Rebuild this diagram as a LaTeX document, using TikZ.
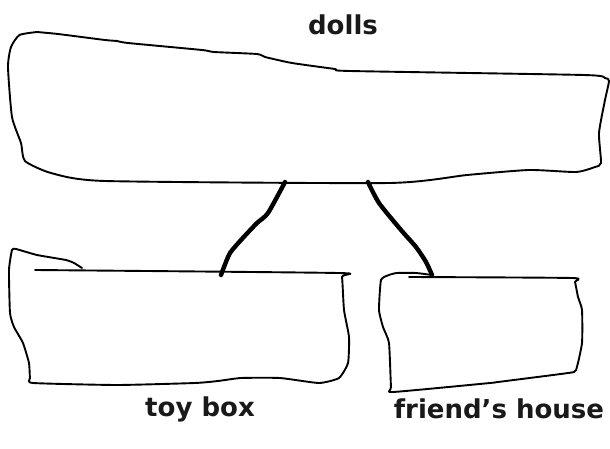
\documentclass[tikz,border=0pt]{standalone}
\usepackage{fontspec}
\setmainfont{DejaVu Sans}
\begin{document}
\begin{tikzpicture}[x=1pt,y=-1pt,
  outline/.style={line width=1.9pt, line join=round, line cap=round},
  link/.style={line width=4.4pt, line join=round, line cap=round},
  lbl/.style={font=\bfseries\fontsize{26}{30}\selectfont, inner sep=0pt, text=black!90}]
\useasboundingbox (0,0) rectangle (610,449);
% labels
\node[lbl] (dolls) at (343,25) {dolls};
\node[lbl] (toy) at (200,409) {toy box};
\node[lbl] (friend) at (499,409) {friend’s house};
% top box (dolls)
\draw[outline] plot[smooth, tension=0.35] coordinates {
 (37,32) (58,34) (105,40) (117,41) (128,43) (202,50) (214,52) (257,54) (265,57)
 (292,63) (335,69) (350,71) (584,75) (605,78) (609,81) (605,100) (599,133)
 (601,163) (595,167) (576,172) (529,170) (467,175) (389,183) (105,181)
 (51,173) (25,161) (21,143) (12,117) (8,67) (11,47) (19.5,35) (37,32)};
% toy box
\draw[outline] plot[smooth, tension=0.3] coordinates {
 (35,270) (338,273) (342,277) (344,310) (349,337) (348,363) (339,378) (319,383)
 (280,378) (241,378) (218,381) (195,383) (117,385) (33,383) (30,378) (29,363)
 (23,343) (14,327) (10,313) (9,270) (12,250) (16,249) (37,255) (66,260) (74,263) (82,268)};
% friend's house box
\draw[outline] plot[smooth, tension=0.3] coordinates {
 (409,277) (572,278) (575,282) (578,297) (582,310) (582,343) (576,370) (568,373)
 (498,382) (490,383) (393,392) (391,387) (389,343) (383,327) (379,310) (381,280)
 (389,275) (397,273) (416,273) (432,275)};
% connector endpoints
\coordinate (dollsL) at (285,182);
\coordinate (dollsR) at (368,182);
\coordinate (toyTop) at (221,275);
\coordinate (friendTop) at (432,275);
\draw[link] plot[smooth, tension=0.4] coordinates {(dollsL) (268,213) (257,223) (241,240) (230,253) (224,267) (toyTop)};
\draw[link] plot[smooth, tension=0.4] coordinates {(dollsR) (379,203) (401,230) (416,247) (426,262) (friendTop)};
\end{tikzpicture}
\end{document}
